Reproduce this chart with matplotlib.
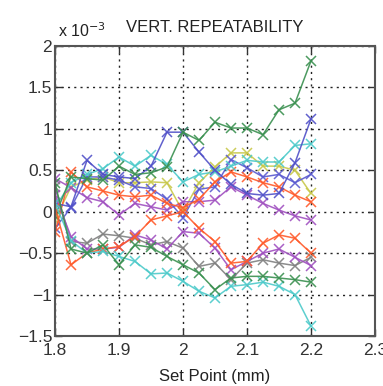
import matplotlib
matplotlib.use("Agg")
import matplotlib.pyplot as plt
import numpy as np

plt.rcParams['font.family'] = ['Liberation Sans', 'DejaVu Sans']

# Set points (mm)
set_points = [1.8, 1.825, 1.85, 1.875, 1.9, 1.925, 1.95, 1.975, 2.0,
              2.025, 2.05, 2.075, 2.1, 2.125, 2.15, 2.175, 2.2]

# Vertical repeatability values (units of 1e-3)
green_top = [-0.05, 0.42, 0.40, 0.38, 0.55, 0.45, 0.47, 0.54, 0.96, 0.86, 1.08, 1.01, 1.01, 0.93, 1.23, 1.31, 1.82]
blue_top = [0.10, 0.06, 0.62, 0.45, 0.42, 0.40, 0.55, 0.96, 0.96, 0.72, 0.50, 0.33, 0.22, 0.20, 0.22, 0.59, 1.12]
cyan_top = [0.05, 0.35, 0.45, 0.52, 0.66, 0.55, 0.68, 0.57, 0.36, 0.45, 0.48, 0.55, 0.62, 0.60, 0.60, 0.80, 0.82]
yellow_top = [-0.10, 0.30, 0.38, 0.42, 0.35, 0.35, 0.36, 0.35, 0.00, 0.35, 0.54, 0.71, 0.71, 0.55, 0.55, 0.50, 0.22]
orange_top = [-0.25, 0.48, 0.30, 0.25, 0.20, 0.18, 0.20, 0.10, 0.05, 0.15, 0.36, 0.48, 0.42, 0.35, 0.30, 0.20, 0.12]
purple_top = [0.40, 0.29, 0.17, 0.12, -0.04, 0.10, 0.06, 0.02, 0.12, 0.12, 0.14, 0.30, 0.20, 0.10, 0.02, -0.05, -0.10]
blue_low = [-0.20, 0.05, 0.42, 0.42, 0.38, 0.30, 0.28, 0.15, -0.07, 0.27, 0.30, 0.63, 0.53, 0.42, 0.45, 0.35, 0.45]

orange_bot = [0.05, -0.64, -0.50, -0.45, -0.42, -0.30, -0.10, -0.05, 0.00, -0.20, -0.36, -0.62, -0.60, -0.38, -0.28, -0.32, -0.50]
gray_bot = [0.30, -0.36, -0.38, -0.27, -0.29, -0.32, -0.40, -0.36, -0.44, -0.66, -0.62, -0.82, -0.62, -0.58, -0.62, -0.65, -0.55]
purple_bot = [0.20, -0.30, -0.45, -0.45, -0.43, -0.28, -0.34, -0.45, -0.24, -0.26, -0.44, -0.70, -0.60, -0.50, -0.45, -0.55, -0.65]
green_bot = [0.35, -0.45, -0.50, -0.40, -0.64, -0.40, -0.43, -0.54, -0.64, -0.74, -0.94, -0.80, -0.78, -0.78, -0.80, -0.82, -0.85]
cyan_bot = [0.10, -0.35, -0.50, -0.48, -0.54, -0.60, -0.75, -0.74, -0.84, -0.96, -1.04, -0.90, -0.88, -0.85, -0.90, -1.00, -1.38]

series = [
    (yellow_top, '#c8c84a'),
    (purple_top, '#a050c0'),
    (blue_low, '#5a5ad0'),
    (orange_top, '#ff5a2a'),
    (cyan_top, '#4ccaca'),
    (blue_top, '#5050c8'),
    (green_top, '#3a9050'),
    (gray_bot, '#808080'),
    (purple_bot, '#a050c0'),
    (orange_bot, '#ff5a2a'),
    (cyan_bot, '#4ccaca'),
    (green_bot, '#3a9050'),
]

scale = 1e-3
x_ticks = [1.8, 1.9, 2.0, 2.1, 2.2, 2.3]
x_tick_labels = ['1.8', '1.9', '2', '2.1', '2.2', '2.3']
y_ticks = [-1.5, -1, -0.5, 0, 0.5, 1, 1.5, 2]
y_tick_labels = ['\u22121.5', '\u22121', '\u22120.5', '0', '0.5', '1', '1.5', '2']

fig = plt.figure(figsize=(3.83, 3.86), dpi=100)
ax = fig.add_axes([55/383, 50/386, 320/383, 290/386])

xs = np.array(set_points)
for vals, col in series:
    ax.plot(xs, np.array(vals) * scale, color=col, lw=1.1, marker='x',
            markersize=7, markeredgewidth=1.1, alpha=0.9)

ax.set_xlim(1.8, 2.3)
ax.set_ylim(-1.5e-3, 2e-3)
ax.set_xticks(x_ticks)
ax.set_xticklabels(x_tick_labels)
ax.set_yticks([v * scale for v in y_ticks])
ax.set_yticklabels(y_tick_labels)
ax.tick_params(direction='in', length=5, width=1, top=True, right=True,
               labelsize=12.5, colors='#333333')
ax.tick_params(axis='x', pad=5)
ax.tick_params(axis='y', pad=2)
ax.grid(True, color='#222222', linestyle=(0, (1.5, 3.0)), lw=1.0)
for s in ax.spines.values():
    s.set_linewidth(1.5)
    s.set_color('#555555')

ax.set_xlabel('Set Point (mm)', fontsize=12, color='#222222', labelpad=8)
ax.set_title('VERT. REPEATABILITY', fontsize=12, color='#222222', pad=10)
ax.text(0.01, 1.02, 'x 10$^{-3}$', transform=ax.transAxes, fontsize=11.5,
        color='#222222', ha='left', va='bottom')

fig.savefig('out.png', dpi=100)
